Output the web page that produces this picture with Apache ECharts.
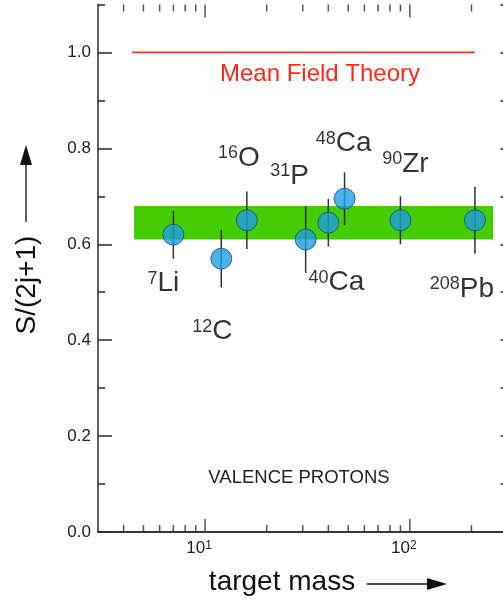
<!DOCTYPE html>
<html>
<head>
<meta charset="utf-8">
<script src="https://cdn.jsdelivr.net/npm/echarts@6/dist/echarts.min.js"></script>
<style>
html,body{margin:0;padding:0;background:#fff;overflow:hidden;width:503px;height:601px;}
#c{width:520px;height:601px;}
</style>
</head>
<body>
<div id="c"></div>
<script>
// ---- data ----
const masses   = [7, 12, 16, 31, 40, 48, 90, 208];
const massNums = ['7', '12', '16', '31', '40', '48', '90', '208'];
const elements = ['Li', 'C', 'O', 'P', 'Ca', 'Ca', 'Zr', 'Pb'];
const sValues  = [0.62, 0.57, 0.65, 0.61, 0.645, 0.695, 0.65, 0.65];
const sErrors  = [0.05, 0.06, 0.06, 0.07, 0.05, 0.055, 0.05, 0.07];
const bandLow = 0.61, bandHigh = 0.68, bandFrom = 4.5, bandTo = 255;
const theoryValue = 1.0, theoryFrom = 4.4, theoryTo = 208;
const xMin = 3, xMax = 300, yMin = 0, yMax = 1.1;
const xMajorTicks = [10, 100];
const xMinorTicks = [4, 5, 6, 7, 8, 9, 20, 30, 40, 50, 60, 70, 80, 90, 200];
// label placement (pixel offsets from each point) -- layout only
const labelOffsets = [[-10, 49], [-9, 73], [-8, -62], [-16, -63], [8, 60], [-1, -55], [5, -56], [-13, 69]];

const FONT = '"Liberation Sans", Arial, Helvetica, sans-serif';
const AX = '#2a2a2a';

const chart = echarts.init(document.getElementById('c'), null, {renderer: 'canvas'});

const logX = (show, pos) => ({
  type: 'log', logBase: 10, min: xMin, max: xMax, position: pos,
  axisLine: {show: true, lineStyle: {color: AX, width: 1.5}},
  axisTick: {show: false},
  splitLine: {show: false}, minorTick: {show: false}, minorSplitLine: {show: false},
  axisLabel: show ? {
    show: true, margin: 8, color: '#222', fontFamily: FONT, fontSize: 17,
    showMinLabel: false, showMaxLabel: false,
    padding: [0, 12, 0, 0],
    formatter: function (v) {
      const l = Math.log10(v), e = Math.round(l);
      if (Math.abs(l - e) > 1e-6) return '';
      return '{m|10}{s|' + e + '}';
    },
    rich: {
      m: {fontSize: 17, fontFamily: FONT, color: '#222'},
      s: {fontSize: 12, fontFamily: FONT, color: '#222', verticalAlign: 'top'}
    }
  } : {show: false}
});

const valY = (pos, interval, tickLen, showLine, showLabel) => ({
  type: 'value', min: yMin, max: yMax, interval: interval, position: pos,
  axisLine: {show: showLine, lineStyle: {color: AX, width: 1.5}},
  axisTick: {show: true, inside: true, length: tickLen, lineStyle: {color: AX, width: 1.5}},
  splitLine: {show: false},
  axisLabel: showLabel ? {
    show: true, margin: 7, color: '#222', fontFamily: FONT, fontSize: 17,
    showMaxLabel: false,
    formatter: v => v.toFixed(1)
  } : {show: false}
});

const tickSeries = (values, yv, len, dir) => ({
  type: 'scatter', xAxisIndex: 0, yAxisIndex: 0, clip: false, silent: true, z: 6,
  symbol: 'rect', symbolSize: [1.5, len], symbolOffset: [0, dir * len / 2],
  itemStyle: {color: AX},
  data: values.map(v => [v, yv])
});

chart.setOption({
  animation: false,
  backgroundColor: '#fff',
  grid: {left: 98, top: 4.5, width: 409.5, height: 527.5, containLabel: false},
  xAxis: [logX(true, 'bottom'), logX(false, 'top')],
  yAxis: [valY('left', 0.2, 14, true, true), valY('left', 0.1, 7, false, false), valY('right', 0.1, 7, true, false)],
  series: [
    // green band
    {
      type: 'line', data: [], xAxisIndex: 0, yAxisIndex: 0, silent: true,
      markArea: {
        silent: true,
        itemStyle: {color: '#45cc00', opacity: 1},
        data: [[{coord: [bandFrom, bandLow]}, {coord: [bandTo, bandHigh]}]]
      }
    },
    // mean field theory line
    {
      type: 'line', xAxisIndex: 0, yAxisIndex: 0, silent: true, symbol: 'none',
      lineStyle: {color: '#ff3322', width: 1.8},
      data: [[theoryFrom, theoryValue], [theoryTo, theoryValue]]
    },
    // error bars
    {
      type: 'custom', xAxisIndex: 0, yAxisIndex: 0, silent: true, z: 3,
      data: masses.map((m, i) => [m, sValues[i] - sErrors[i], sValues[i] + sErrors[i]]),
      renderItem: function (params, api) {
        const lo = api.coord([api.value(0), api.value(1)]);
        const hi = api.coord([api.value(0), api.value(2)]);
        return {type: 'line', shape: {x1: lo[0], y1: lo[1], x2: hi[0], y2: hi[1]},
          style: {stroke: '#333', lineWidth: 1.5}};
      }
    },
    // points
    {
      type: 'scatter', xAxisIndex: 0, yAxisIndex: 0, z: 4, symbolSize: 21,
      itemStyle: {color: '#1b9de0', borderColor: '#1d4f73', borderWidth: 1},
      data: masses.map((m, i) => [m, sValues[i]])
    },
    // isotope labels
    {
      type: 'scatter', xAxisIndex: 0, yAxisIndex: 0, z: 5, symbolSize: 1, silent: true,
      itemStyle: {color: 'transparent'},
      data: masses.map((m, i) => ({
        value: [m, sValues[i]],
        label: {
          show: true, position: 'inside', offset: labelOffsets[i],
          formatter: '{s|' + massNums[i] + '}{m|' + elements[i] + '}',
          rich: {
            s: {fontSize: 18, fontFamily: FONT, color: '#000', verticalAlign: 'top'},
            m: {fontSize: 28, fontFamily: FONT, color: '#000'}
          }
        }
      }))
    },
    tickSeries(xMajorTicks, yMin, 13, -1),
    tickSeries(xMajorTicks, yMax, 13, 1),
    tickSeries(xMinorTicks, yMin, 7, -1),
    tickSeries(xMinorTicks, yMax, 7, 1)
  ],
  graphic: [
    {
      type: 'text', x: 320, y: 74,
      style: {text: 'Mean Field Theory', fill: '#ff2a1a', font: '24px ' + FONT, align: 'center', verticalAlign: 'middle'}
    },
    {
      type: 'text', x: 299, y: 478,
      style: {text: 'VALENCE PROTONS', fill: '#222', font: '18.5px ' + FONT, align: 'center', verticalAlign: 'middle'}
    },
    {
      type: 'text', x: 282, y: 582,
      style: {text: 'target mass', fill: '#111', font: '28px ' + FONT, align: 'center', verticalAlign: 'middle'}
    },
    {type: 'line', shape: {x1: 367, y1: 584, x2: 430, y2: 584}, style: {stroke: '#111', lineWidth: 1.3}},
    {type: 'polygon', shape: {points: [[447, 584], [427, 578], [427, 590]]}, style: {fill: '#111'}},
    {
      type: 'text', x: 27, y: 285, rotation: Math.PI / 2,
      style: {text: 'S/(2j+1)', fill: '#111', font: '28px ' + FONT, align: 'center', verticalAlign: 'middle'}
    },
    {type: 'line', shape: {x1: 26, y1: 162, x2: 26, y2: 222}, style: {stroke: '#111', lineWidth: 1.3}},
    {type: 'polygon', shape: {points: [[26, 145], [20, 165], [32, 165]]}, style: {fill: '#111'}}
  ]
});
</script>
</body>
</html>
